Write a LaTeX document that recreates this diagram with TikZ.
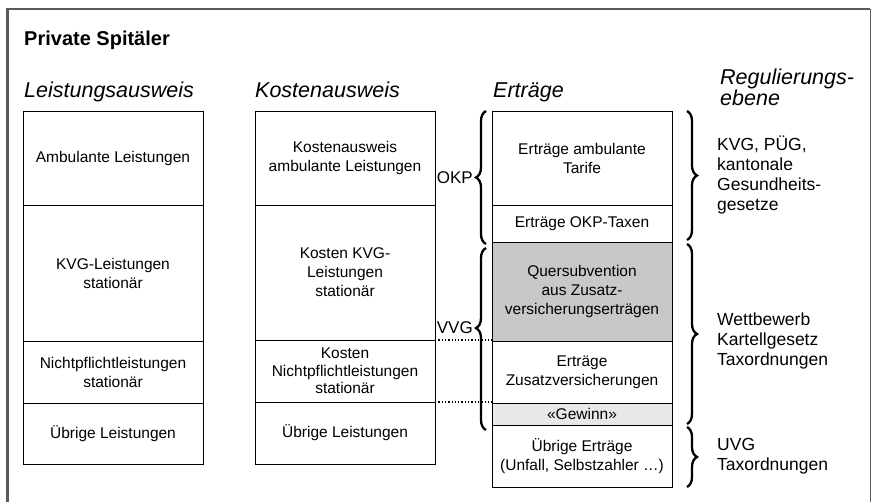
\documentclass[tikz,border=0pt]{standalone}
\usepackage{fontspec}
\setmainfont{Liberation Sans}
\usepackage{tikz}
\usetikzlibrary{positioning,decorations.pathreplacing}

\definecolor{framegray}{RGB}{90,90,90}
\definecolor{subgray}{RGB}{200,200,200}
\definecolor{wingray}{RGB}{232,232,232}

\begin{document}
\begin{tikzpicture}[
  x=1pt, y=1pt,
  cell/.style={draw, line width=0.9pt, outer sep=0pt, inner sep=1pt, minimum width=180pt, align=center, font=\fontsize{15.5}{19}\selectfont},
  head/.style={anchor=base west, inner sep=0pt, font=\fontsize{21.5}{22}\selectfont\itshape},
  rule/.style={anchor=west, inner sep=0pt, align=left, font=\fontsize{17.5}{20}\selectfont},
  tag/.style={anchor=east, inner sep=0pt, font=\fontsize{17}{20}\selectfont},
  brace/.style={decorate, decoration={brace, amplitude=10pt, aspect=#1}, line width=2.3pt},
  brace/.default=0.5,
  sep/.style={dotted, line width=1.3pt}
]
  \useasboundingbox (0,0) rectangle (874,-501);
  % frame
  \draw[framegray, line width=2.6pt] (7.5,-510) |- (870,-9);
  \draw[framegray, line width=1pt] (870,-9) -- (870,-510);

  \node[anchor=base west, inner sep=0pt, font=\fontsize{20}{20}\selectfont\bfseries] (title) at (24,-45) {Private Spitäler};

  % headings
  \node[head] (hleist) at (24,-97) {Leistungsausweis};
  \node[head] (hkost) at (255,-97) {Kostenausweis};
  \node[head] (hertr) at (493,-97) {Erträge};
  \node[anchor=north west, inner sep=0pt, align=left, font=\fontsize{21.5}{21}\selectfont\itshape] (hreg) at (720,-69) {Regulierungs-\\ebene};

  % Leistungsausweis
  \node[cell, minimum height=94pt, anchor=north west] (lamb) at (23,-111) {Ambulante Leistungen};
  \node[cell, minimum height=136pt, below=0pt of lamb] (lkvg) {KVG-Leistungen\\stationär};
  \node[cell, minimum height=62pt, below=0pt of lkvg] (lnp) {Nichtpflichtleistungen\\stationär};
  \node[cell, minimum height=61pt, below=0pt of lnp] (lueb) {Übrige Leistungen};

  % Kostenausweis
  \node[cell, minimum height=94pt, anchor=north west] (kamb) at (255,-111) {Kostenausweis\\ambulante Leistungen};
  \node[cell, minimum height=135pt, below=0pt of kamb] (kkvg) {Kosten KVG-\\Leistungen\\stationär};
  \node[cell, minimum height=62pt, below=0pt of kkvg, font=\fontsize{15.5}{17.5}\selectfont] (knp) {Kosten\\Nichtpflichtleistungen\\stationär};
  \node[cell, minimum height=62pt, below=0pt of knp] (kueb) {Übrige Leistungen};

  % Ertraege
  \node[cell, minimum height=94pt, anchor=north west] (eamb) at (492,-111) {Erträge ambulante\\Tarife};
  \node[cell, minimum height=37pt, below=0pt of eamb] (eokp) {Erträge OKP-Taxen};
  \node[cell, minimum height=99pt, below=0pt of eokp, fill=subgray] (equer) {Quersubvention\\aus Zusatz-\\versicherungserträgen};
  \node[cell, minimum height=62pt, below=0pt of equer] (ezus) {Erträge\\Zusatzversicherungen};
  \node[cell, minimum height=22pt, below=0pt of ezus, fill=wingray] (egew) {«Gewinn»};
  \node[cell, minimum height=62pt, below=0pt of egew] (eueb) {Übrige Erträge\\(Unfall, Selbstzahler …)};

  % dotted separators
  \draw[sep] (knp.north east) -- (knp.north east -| ezus.west);
  \draw[sep] (kueb.north east) -- (kueb.north east -| egew.west);

  % left braces
  \draw[brace] ([xshift=-6pt,yshift=-2pt]eokp.south west) -- ([xshift=-6pt]eamb.north west);
  \draw[brace=0.56] ([xshift=-6pt,yshift=-5pt]egew.south west) -- ([xshift=-6pt,yshift=-6pt]eokp.south west);
  \node[tag] (okp) at (473,-178) {OKP};
  \node[tag] (vvg) at (473,-328) {VVG};

  % right braces
  \draw[brace] ([xshift=15pt]eamb.north east) -- ([xshift=15pt,yshift=2pt]eokp.south east);
  \draw[brace] ([xshift=15pt,yshift=-2pt]eokp.south east) -- ([xshift=15pt,yshift=1pt]egew.south east);
  \draw[brace] ([xshift=15pt,yshift=-2pt]eueb.north east) -- ([xshift=15pt]eueb.south east);

  % Regulierungsebene
  \node[rule] (rkvg) at (717,-175) {KVG, PÜG,\\kantonale\\Gesundheits-\\gesetze};
  \node[rule] (rwett) at (717,-341) {Wettbewerb\\Kartellgesetz\\Taxordnungen};
  \node[rule] (ruvg) at (717,-456) {UVG\\Taxordnungen};
\end{tikzpicture}
\end{document}
